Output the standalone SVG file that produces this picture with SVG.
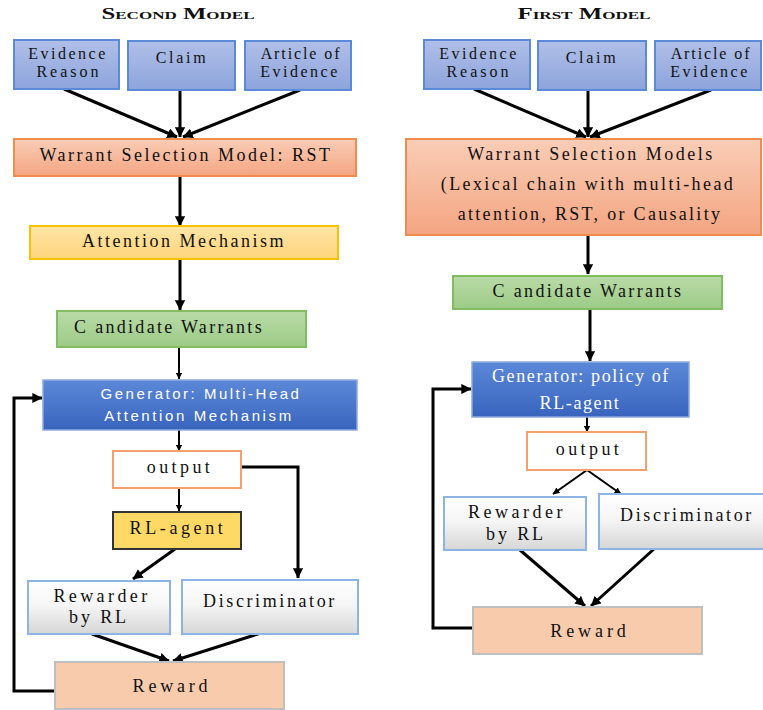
<svg xmlns="http://www.w3.org/2000/svg" width="763" height="710" viewBox="0 0 763 710">
<defs>
<linearGradient id="gBlue" x1="0" y1="0" x2="0" y2="1"><stop offset="0" stop-color="#B0BFE8"/><stop offset="1" stop-color="#8DA4DC"/></linearGradient>
<linearGradient id="gOrange" x1="0" y1="0" x2="0" y2="1"><stop offset="0" stop-color="#F9CDB6"/><stop offset="1" stop-color="#F4A582"/></linearGradient>
<linearGradient id="gYellow" x1="0" y1="0" x2="0" y2="1"><stop offset="0" stop-color="#FFE6A6"/><stop offset="1" stop-color="#FFD47C"/></linearGradient>
<linearGradient id="gGreen" x1="0" y1="0" x2="0" y2="1"><stop offset="0" stop-color="#BADBA8"/><stop offset="1" stop-color="#9CCB86"/></linearGradient>
<linearGradient id="gGen" x1="0" y1="0" x2="0" y2="1"><stop offset="0" stop-color="#5C88D8"/><stop offset="1" stop-color="#3864BE"/></linearGradient>
<linearGradient id="gGray" x1="0" y1="0" x2="0" y2="1"><stop offset="0" stop-color="#FFFFFF"/><stop offset="0.45" stop-color="#F6F6F6"/><stop offset="1" stop-color="#D6D6D6"/></linearGradient>
<marker id="arr" viewBox="0 0 10 10" refX="9.5" refY="5" markerWidth="3.4" markerHeight="3.4" orient="auto"><path d="M0,0 L10,5 L0,10 z" fill="#000"/></marker>
</defs>
<style>
.t{font-family:"Liberation Serif","DejaVu Serif",serif;font-size:18px;letter-spacing:2.5px;fill:#111;text-anchor:middle}
.sm{font-size:16px;letter-spacing:2.5px}
.s{font-family:"Liberation Sans","DejaVu Sans",sans-serif;font-size:15px;letter-spacing:2.6px;fill:#fff;text-anchor:middle}
.w{fill:#fff;letter-spacing:1.6px}
.ttl{font-family:"Liberation Serif","DejaVu Serif",serif;font-size:16px;font-weight:bold;font-variant:small-caps;fill:#111;text-anchor:middle}
.blue{fill:url(#gBlue);stroke:#5B8BD8;stroke-width:2}
.orange{fill:url(#gOrange);stroke:#F08C50;stroke-width:2}
.yellow{fill:url(#gYellow);stroke:#FFC000;stroke-width:2}
.green{fill:url(#gGreen);stroke:#82BD62;stroke-width:2}
.gen{fill:url(#gGen);stroke:#8FAADC;stroke-width:1.5}
.out{fill:#fff;stroke:#F4A070;stroke-width:2}
.rl{fill:#FFD966;stroke:#333;stroke-width:2}
.gray{fill:url(#gGray);stroke:#8DB4E2;stroke-width:2}
.rew{fill:#F8CBAD;stroke:#BFBFBF;stroke-width:2}
.c3{fill:none;stroke:#000;stroke-width:3;marker-end:url(#arr)}
.c2{fill:none;stroke:#000;stroke-width:2;marker-end:url(#arr)}
</style>

<text class="ttl" x="178" y="19" textLength="153" lengthAdjust="spacingAndGlyphs">Second Model</text>
<text class="ttl" x="584" y="19" textLength="133" lengthAdjust="spacingAndGlyphs">First Model</text>

<g id="connectors">
<line class="c3" x1="64" y1="89" x2="177" y2="137"/>
<line class="c3" x1="180" y1="90" x2="180" y2="137"/>
<line class="c3" x1="300" y1="90" x2="183" y2="137"/>
<line class="c3" x1="180" y1="176" x2="180" y2="226"/>
<line class="c3" x1="180" y1="259" x2="180" y2="310"/>
<line class="c2" x1="179" y1="347" x2="179" y2="379"/>
<line class="c2" x1="179" y1="430" x2="179" y2="451"/>
<line class="c2" x1="179" y1="488" x2="179" y2="511"/>
<line class="c3" x1="175" y1="549" x2="133" y2="579"/>
<polyline class="c3" points="241,467 298,467 298,578"/>
<line class="c3" x1="92" y1="634" x2="169" y2="661"/>
<line class="c3" x1="261" y1="633" x2="173" y2="661"/>
<polyline class="c3" points="55,691 14,691 14,398 42,398"/>

<line class="c3" x1="474" y1="89" x2="586" y2="137"/>
<line class="c3" x1="588" y1="90" x2="588" y2="137"/>
<line class="c3" x1="711" y1="90" x2="590" y2="137"/>
<line class="c3" x1="588" y1="235" x2="588" y2="274"/>
<line class="c3" x1="590" y1="309" x2="590" y2="361"/>
<line class="c2" x1="587" y1="417" x2="587" y2="432"/>
<line class="c2" x1="587" y1="470" x2="553" y2="494"/>
<line class="c2" x1="587" y1="470" x2="621" y2="494"/>
<line class="c3" x1="520" y1="550" x2="585" y2="606"/>
<line class="c3" x1="654" y1="549" x2="591" y2="606"/>
<polyline class="c3" points="473,628 433,628 433,389 471,389"/>
</g>

<g id="evidence_reason_2"><rect class="blue" x="14" y="40" width="105" height="49"/><text class="t sm" x="68" y="59">Evidence</text><text class="t sm" x="69" y="77" style="letter-spacing:3px">Reason</text></g>
<g id="claim_2"><rect class="blue" x="128" y="41" width="107" height="49"/><text class="t sm" x="182" y="63" style="letter-spacing:2.7px">Claim</text></g>
<g id="article_2"><rect class="blue" x="245" y="41" width="106" height="49"/><text class="t sm" x="301" y="59" style="letter-spacing:1.9px">Article of</text><text class="t sm" x="300" y="77">Evidence</text></g>
<g id="warrant_2"><rect class="orange" x="14" y="139" width="342" height="37"/><text class="t" x="186" y="161">Warrant Selection Model: RST</text></g>
<g id="attention_2"><rect class="yellow" x="30" y="226" width="308" height="33"/><text class="t" x="184" y="247">Attention Mechanism</text></g>
<g id="candidate_2"><rect class="green" x="57" y="311" width="249" height="36"/><text class="t" x="169" y="333" style="letter-spacing:2.3px">C andidate Warrants</text></g>
<g id="generator_2"><rect class="gen" x="43" y="380" width="314" height="50"/><text class="s" x="201" y="399" style="letter-spacing:2.5px">Generator: Multi-Head</text><text class="s" x="199" y="421">Attention Mechanism</text></g>
<g id="output_2"><rect class="out" x="113" y="451" width="128" height="37"/><text class="t" x="180" y="473" style="letter-spacing:3.4px">output</text></g>
<g id="rlagent_2"><rect class="rl" x="113" y="512" width="128" height="37"/><text class="t" x="178" y="534" style="letter-spacing:3.6px">RL-agent</text></g>
<g id="rewarder_2"><rect class="gray" x="28" y="581" width="142" height="53"/><text class="t" x="102" y="602" style="letter-spacing:3.4px">Rewarder</text><text class="t" x="99" y="623" style="letter-spacing:2.9px">by RL</text></g>
<g id="discriminator_2"><rect class="gray" x="182" y="580" width="176" height="54"/><text class="t" x="270" y="607" style="letter-spacing:2.6px">Discriminator</text></g>
<g id="reward_2"><rect class="rew" x="55" y="662" width="229" height="47"/><text class="t" x="172" y="692" style="letter-spacing:3.8px">Reward</text></g>

<g id="evidence_reason_1"><rect class="blue" x="424" y="40" width="106" height="49"/><text class="t sm" x="479" y="59">Evidence</text><text class="t sm" x="479" y="77" style="letter-spacing:3px">Reason</text></g>
<g id="claim_1"><rect class="blue" x="538" y="41" width="108" height="49"/><text class="t sm" x="592" y="63" style="letter-spacing:2.7px">Claim</text></g>
<g id="article_1"><rect class="blue" x="655" y="41" width="106" height="49"/><text class="t sm" x="711" y="59" style="letter-spacing:1.9px">Article of</text><text class="t sm" x="710" y="77">Evidence</text></g>
<g id="warrant_1"><rect class="orange" x="406" y="139" width="355" height="96"/><text class="t" x="591" y="160">Warrant Selection Models</text><text class="t" x="588" y="190" style="letter-spacing:2.4px">(Lexical chain with multi-head</text><text class="t" x="590" y="220" style="letter-spacing:2.3px">attention, RST, or Causality</text></g>
<g id="candidate_1"><rect class="green" x="453" y="276" width="269" height="33"/><text class="t" x="588" y="297" style="letter-spacing:2.35px">C andidate Warrants</text></g>
<g id="generator_1"><rect class="gen" x="472" y="362" width="217" height="55"/><text class="t w" x="581" y="382">Generator: policy of</text><text class="t w" x="580" y="409">RL-agent</text></g>
<g id="output_1"><rect class="out" x="527" y="432" width="119" height="38"/><text class="t" x="589" y="455" style="letter-spacing:3.4px">output</text></g>
<g id="rewarder_1"><rect class="gray" x="444" y="497" width="142" height="53"/><text class="t" x="517" y="518" style="letter-spacing:3.5px">Rewarder</text><text class="t" x="516" y="540" style="letter-spacing:2.9px">by RL</text></g>
<g id="discriminator_1"><rect class="gray" x="599" y="494" width="166" height="55"/><text class="t" x="687" y="521" style="letter-spacing:2.6px">Discriminator</text></g>
<g id="reward_1"><rect class="rew" x="473" y="607" width="229" height="47"/><text class="t" x="590" y="637" style="letter-spacing:3.9px">Reward</text></g>
</svg>
